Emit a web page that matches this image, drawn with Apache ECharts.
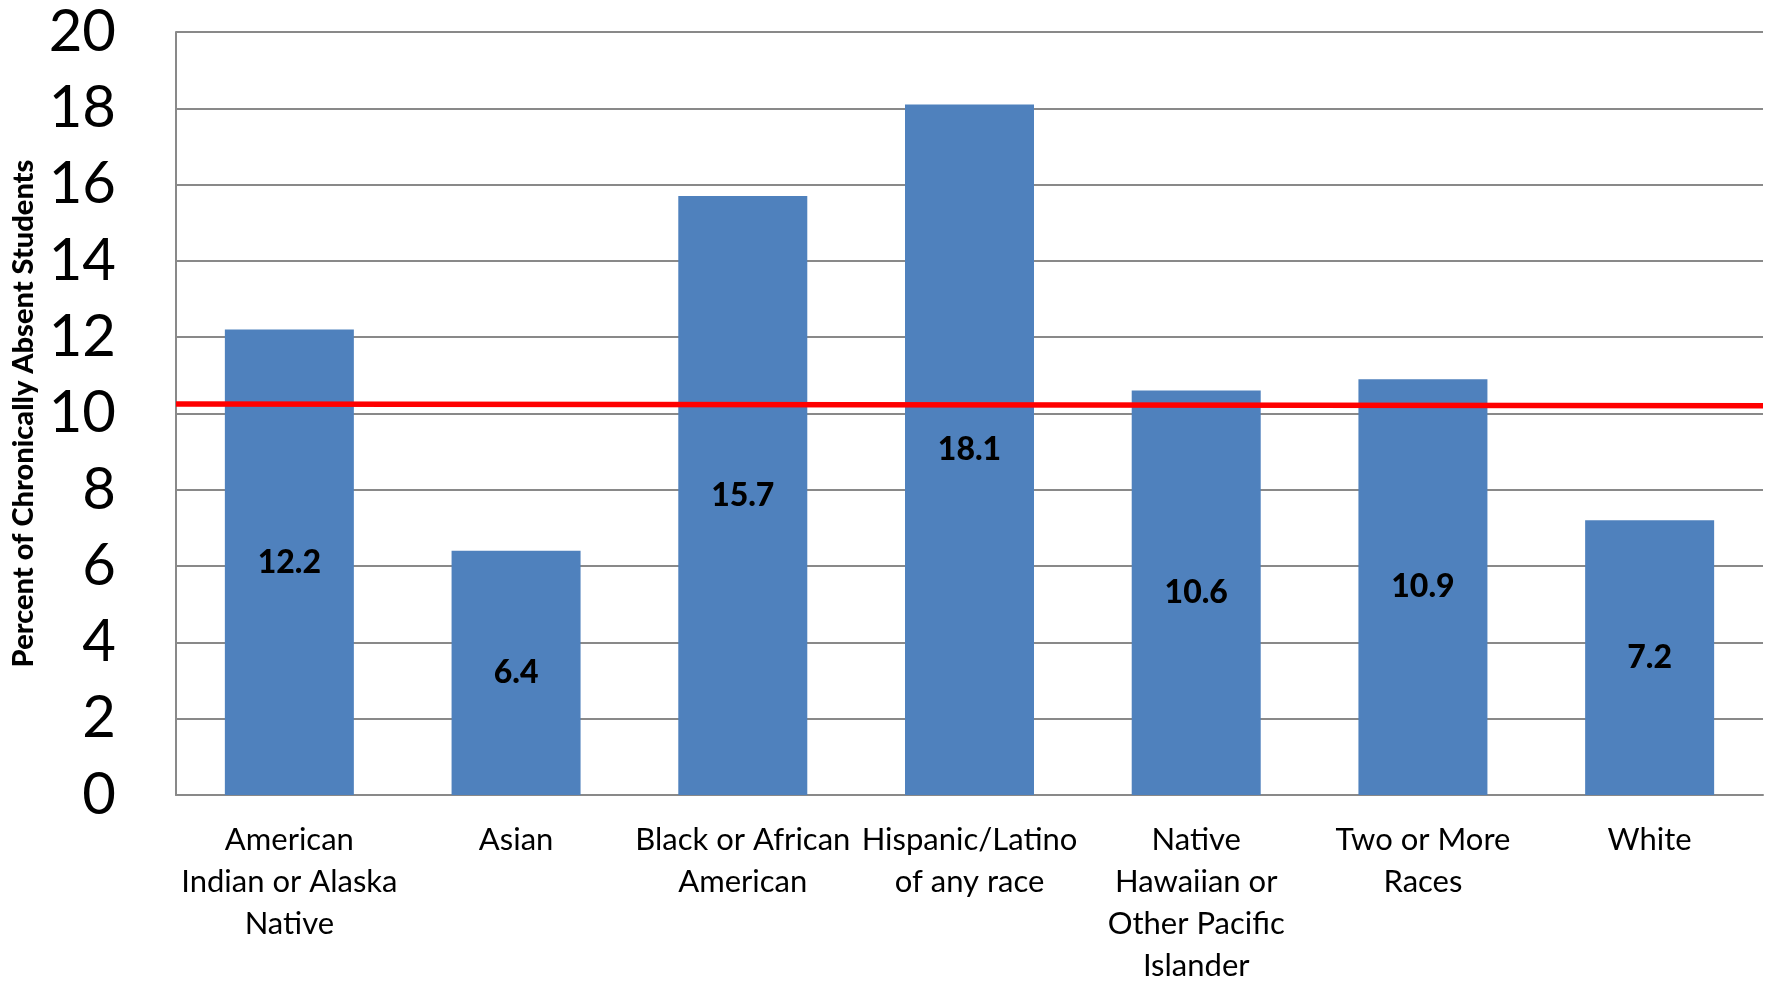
<!DOCTYPE html>
<html>
<head>
<meta charset="utf-8">
<script src="https://cdn.jsdelivr.net/npm/echarts@6/dist/echarts.min.js"></script>
<style>
  html, body { margin: 0; padding: 0; background: #fff; }
  #chart { width: 1772px; height: 981px; }
</style>
</head>
<body>
<div id="chart"></div>
<script>
const categories = [
  "American\nIndian or Alaska\nNative",
  "Asian",
  "Black or African\nAmerican",
  "Hispanic/Latino\nof any race",
  "Native\nHawaiian or\nOther Pacific\nIslander",
  "Two or More\nRaces",
  "White"
];
const percentAbsent = [12.2, 6.4, 15.7, 18.1, 10.6, 10.9, 7.2];
// overall rate reference line (start, end)
const overallLine = [[0, 10.25], [1, 10.2]];
const yTicks = { min: 0, max: 20, interval: 2 };

const chart = echarts.init(document.getElementById("chart"));
const font = "Lato, 'Open Sans', sans-serif";

chart.setOption({
  animation: false,
  backgroundColor: "#fff",
  grid: { left: 176, top: 32, right: 9, bottom: 186, outerBoundsMode: "none", containLabel: false },
  xAxis: [
    {
      type: "category",
      data: categories,
      axisTick: { show: false },
      axisLine: { lineStyle: { color: "#898989", width: 2 } },
      axisLabel: {
        color: "#000",
        fontFamily: font,
        fontSize: 31,
        lineHeight: 42,
        margin: 24,
        interval: 0
      }
    },
    { type: "value", min: 0, max: 1, show: false }
  ],
  yAxis: {
    type: "value",
    min: yTicks.min,
    max: yTicks.max,
    interval: yTicks.interval,
    name: "Percent of Chronically Absent Students",
    nameLocation: "middle",
    nameGap: 136,
    nameTextStyle: { color: "#000", fontFamily: font, fontWeight: 900, fontSize: 29 },
    axisLine: { show: true, lineStyle: { color: "#898989", width: 2 } },
    axisTick: { show: false },
    splitLine: { lineStyle: { color: "#898989", width: 2 } },
    axisLabel: { color: "#000", fontFamily: font, fontSize: 58, margin: 60 }
  },
  series: [
    {
      type: "bar",
      data: percentAbsent,
      barWidth: 129,
      itemStyle: { color: "#4F81BD" },
      label: {
        show: true,
        position: "inside",
        color: "#000",
        fontFamily: font,
        fontWeight: 900,
        fontSize: 32
      }
    },
    {
      type: "line",
      xAxisIndex: 1,
      data: overallLine,
      symbol: "none",
      lineStyle: { color: "#FF0000", width: 5.5 },
      z: 5
    }
  ]
});
</script>
</body>
</html>
